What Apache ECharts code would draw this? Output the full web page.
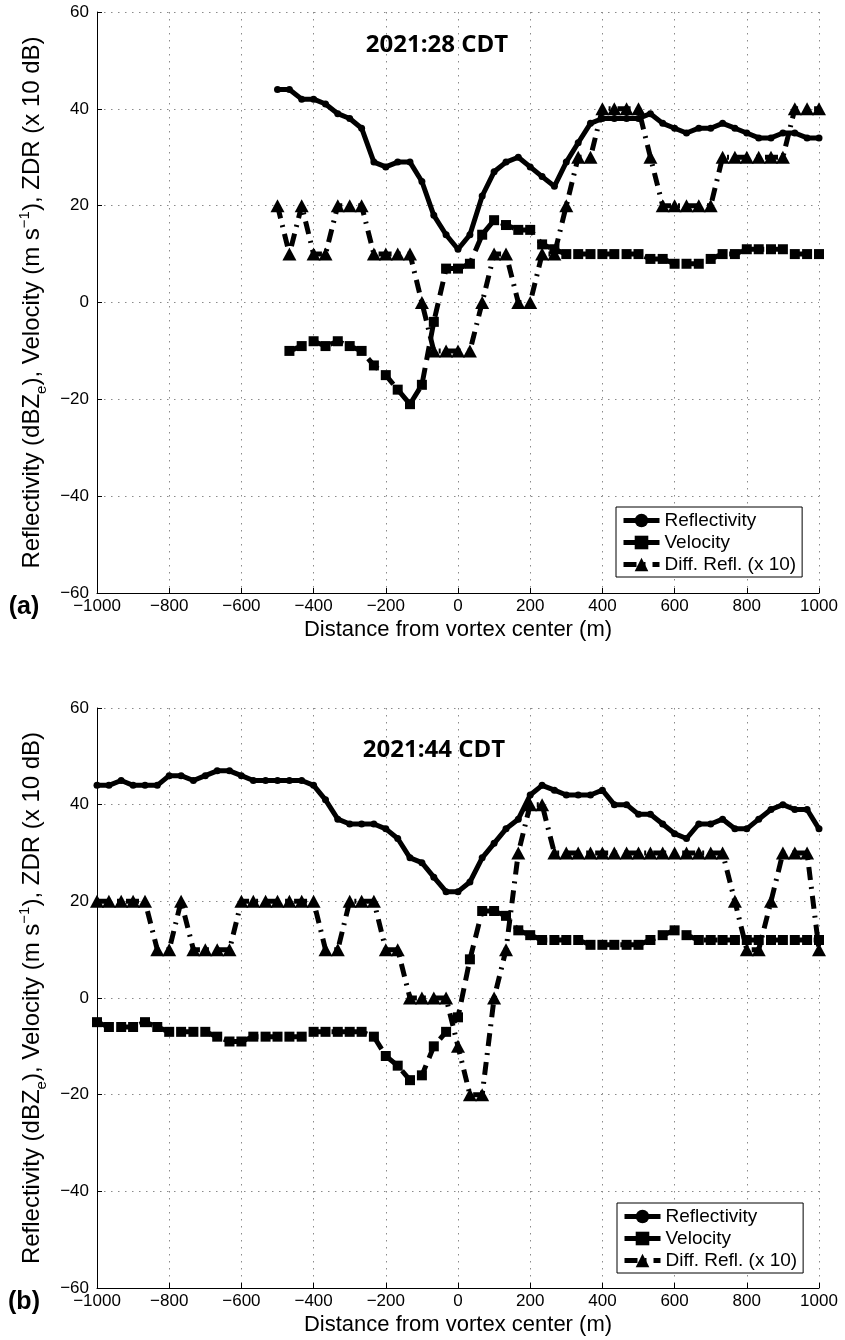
<!DOCTYPE html>
<html><head><meta charset="utf-8">
<script src="https://cdn.jsdelivr.net/npm/echarts@6/dist/echarts.min.js"></script>
<style>html,body{margin:0;padding:0;background:#fff}#c{width:845px;height:1340px}</style>
</head><body><div id="c"></div>
<script>
// ---- data ----
const distTop = [-500,-467,-433,-400,-367,-333,-300,-267,-233,-200,-167,-133,-100,-67,-33,0,33,67,100,133,167,200,233,267,300,333,367,400,433,467,500,533,567,600,633,667,700,733,767,800,833,867,900,933,967,1000];
const reflTop = [44,44,42,42,41,39,38,36,29,28,29,29,25,18,14,11,14,22,27,29,30,28,26,24,29,33,37,38,38,38,38,39,37,36,35,36,36,37,36,35,34,34,35,35,34,34];
const velTop  = [null,-10,-9,-8,-9,-8,-9,-10,-13,-15,-18,-21,-17,-4,7,7,8,14,17,16,15,15,12,11,10,10,10,10,10,10,10,9,9,8,8,8,9,10,10,11,11,11,11,10,10,10];
const zdrTop  = [20,10,20,10,10,20,20,20,10,10,10,10,0,-10,-10,-10,-10,0,10,10,0,0,10,10,20,30,30,40,40,40,40,30,20,20,20,20,20,30,30,30,30,30,30,40,40,40];

const distBot = [-1000,-967,-933,-900,-867,-833,-800,-767,-733,-700,-667,-633,-600,-567,-533,-500,-467,-433,-400,-367,-333,-300,-267,-233,-200,-167,-133,-100,-67,-33,0,33,67,100,133,167,200,233,267,300,333,367,400,433,467,500,533,567,600,633,667,700,733,767,800,833,867,900,933,967,1000];
const reflBot = [44,44,45,44,44,44,46,46,45,46,47,47,46,45,45,45,45,45,44,41,37,36,36,36,35,33,29,28,25,22,22,24,29,32,35,37,42,44,43,42,42,42,43,40,40,38,38,36,34,33,36,36,37,35,35,37,39,40,39,39,35];
const velBot  = [-5,-6,-6,-6,-5,-6,-7,-7,-7,-7,-8,-9,-9,-8,-8,-8,-8,-8,-7,-7,-7,-7,-7,-8,-12,-14,-17,-16,-10,-7,-4,8,18,18,17,14,13,12,12,12,12,11,11,11,11,11,12,13,14,13,12,12,12,12,12,12,12,12,12,12,12];
const zdrBot  = [20,20,20,20,20,10,10,20,10,10,10,10,20,20,20,20,20,20,20,10,10,20,20,20,10,10,0,0,0,0,-10,-20,-20,0,10,30,40,40,30,30,30,30,30,30,30,30,30,30,30,30,30,30,30,20,10,10,20,30,30,30,10];

const seriesNames = ['Reflectivity','Velocity','Diff. Refl. (x 10)'];
const panelTitles = ['2021:28 CDT','2021:44 CDT'];
const panelLabels = ['(a)','(b)'];
const xAxisName = 'Distance from vortex center (m)';
const yAxisName = '{n|Reflectivity (dBZ}{s|e}{n|), Velocity (m s}{p|\u22121}{n|), ZDR (x 10 dB)}';

// ---- chart ----
const FONT = 'Liberation Sans';
const pairs = (xs, ys) => xs.map((x, i) => [x, ys[i]]);
const panels = [
  {dist: distTop, refl: reflTop, vel: velTop, zdr: zdrTop},
  {dist: distBot, refl: reflBot, vel: velBot, zdr: zdrBot}
];
const grids = [
  {left: 97, top: 12, width: 722, height: 581},
  {left: 97, top: 708, width: 722, height: 580}
];
const minus = v => String(v).replace('-', '\u2212');

const xAxes = grids.map((g, i) => ({
  type: 'value', gridIndex: i, min: -1000, max: 1000, interval: 200,
  name: xAxisName, nameLocation: 'middle', nameGap: 26,
  nameTextStyle: {fontFamily: FONT, fontSize: 22, color: '#000'},
  axisLine: {show: true, onZero: false, lineStyle: {color: '#000', width: 1}},
  axisTick: {show: true, inside: true, length: 5, lineStyle: {color: '#000'}},
  axisLabel: {fontFamily: FONT, fontSize: 17, color: '#000', margin: 5, formatter: minus},
  splitLine: {show: true, showMinLine: true, showMaxLine: true, lineStyle: {color: '#8a8a8a', width: 1, type: [1.5, 5.5]}}
}));
const yAxes = grids.map((g, i) => ({
  type: 'value', gridIndex: i, min: -60, max: 60, interval: 20,
  name: yAxisName, nameLocation: 'middle', nameRotate: 90, nameGap: 50,
  nameTextStyle: {
    fontFamily: FONT, fontSize: 24, color: '#000',
    rich: {
      n: {fontFamily: FONT, fontSize: 24, color: '#000', lineHeight: 26},
      s: {fontFamily: FONT, fontSize: 15, color: '#000', verticalAlign: 'bottom', lineHeight: 15, padding: [0, 0, -4, 0]},
      p: {fontFamily: FONT, fontSize: 15, color: '#000', verticalAlign: 'top', lineHeight: 15, padding: [-2, 0, 0, 0]}
    }
  },
  axisLine: {show: true, onZero: false, lineStyle: {color: '#000', width: 1}},
  axisTick: {show: true, inside: true, length: 5, lineStyle: {color: '#000'}},
  axisLabel: {fontFamily: FONT, fontSize: 17, color: '#000', margin: 8, formatter: minus},
  splitLine: {show: true, showMinLine: true, showMaxLine: true, lineStyle: {color: '#8a8a8a', width: 1, type: [1.5, 5.5]}}
}));

const series = [];
panels.forEach((p, i) => {
  series.push({
    name: seriesNames[0], type: 'line', xAxisIndex: i, yAxisIndex: i,
    data: pairs(p.dist, p.refl), symbol: 'circle', symbolSize: 7, showAllSymbol: true,
    lineStyle: {color: '#000', width: 5}, itemStyle: {color: '#000'}, z: 3
  });
  series.push({
    name: seriesNames[1], type: 'line', xAxisIndex: i, yAxisIndex: i,
    data: pairs(p.dist, p.vel), symbol: 'rect', symbolSize: 10, showAllSymbol: true, connectNulls: false,
    lineStyle: {color: '#000', width: 5, type: [14, 8]}, itemStyle: {color: '#000'}, z: 4
  });
  series.push({
    name: seriesNames[2], type: 'line', xAxisIndex: i, yAxisIndex: i,
    data: pairs(p.dist, p.zdr), symbol: 'triangle', symbolSize: [14, 13], showAllSymbol: true,
    lineStyle: {color: '#000', width: 5, type: [13, 7, 2, 7]}, itemStyle: {color: '#000'}, z: 5
  });
});

const legendTops = [507, 1203];
const legendLefts = [616, 617];
const legends = legendTops.map((t, i) => ({
  data: seriesNames, orient: 'vertical', left: legendLefts[i], top: t,
  backgroundColor: '#fff', borderColor: '#000', borderWidth: 1,
  padding: [4, 6, 3, 5], itemGap: 3, itemWidth: 36, itemHeight: 17,
  selectedMode: false,
  lineStyle: {width: 5},
  textStyle: {fontFamily: FONT, fontSize: 19, color: '#000'}
}));

const titlePos = [[437, 45], [434, 750]];
const labelPos = [[24, 607], [24, 1302]];
const graphics = [];
panelTitles.forEach((t, i) => graphics.push({
  type: 'text', x: titlePos[i][0], y: titlePos[i][1], z: 100,
  style: {text: t, fill: '#000', font: 'bold 24px "Open Sans"', textAlign: 'center', textVerticalAlign: 'middle'}
}));
panelLabels.forEach((t, i) => graphics.push({
  type: 'text', x: labelPos[i][0], y: labelPos[i][1], z: 100,
  style: {text: t, fill: '#000', font: 'bold 25px "Liberation Sans"', textAlign: 'center', textVerticalAlign: 'middle'}
}));

const chart = echarts.init(document.getElementById('c'), null, {renderer: 'canvas'});
chart.setOption({
  animation: false,
  backgroundColor: '#fff',
  grid: grids,
  xAxis: xAxes,
  yAxis: yAxes,
  legend: legends,
  series: series,
  graphic: graphics
});
</script></body></html>
